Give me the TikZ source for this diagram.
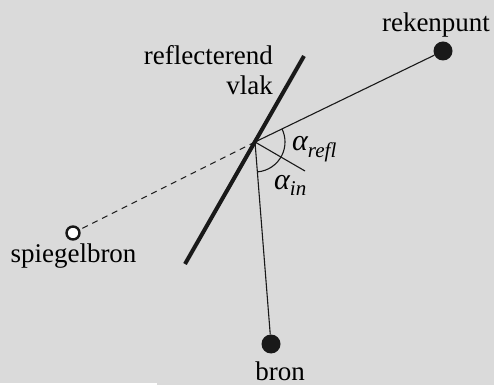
\documentclass[tikz,border=0pt]{standalone}
\usepackage{fontspec}
\setmainfont{Liberation Serif}
\usetikzlibrary{angles}
\definecolor{bggray}{RGB}{218,218,218}

\begin{document}
\begin{tikzpicture}[x=1pt,y=1pt,
  every node/.style={font=\fontsize{27}{30}\selectfont,inner sep=0pt},
  dot/.style={circle,fill=black!90,minimum size=19pt},
  mirror/.style={circle,draw=black!90,fill=white,line width=2.4pt,minimum size=13pt},
  ray/.style={line width=1.1pt,black!90},
  angletext/.style={anchor=base west,font=\fontsize{30}{32}\selectfont\itshape}]
\fill[bggray] (0,0) rectangle (494,385);
\fill[white] (0,0) rectangle (157,2);
\useasboundingbox (0,0) rectangle (494,385);
\coordinate (R) at (255,243);
\coordinate (top) at (304,329);
\coordinate (bot) at (185,121);
\coordinate (N) at (305,214);
\node[dot] (reken) at (443,334) {};
\node[dot] (bron) at (271,41) {};
\node[mirror] (spiegel) at (73,152) {};
\node[anchor=base] (lreken) at (436,353) {rekenpunt};
\node[anchor=base] (lbron) at (280,5) {bron};
\node[anchor=base] (lspiegel) at (73.5,122) {spiegelbron};
\node[anchor=base east] (lrefl) at (273,320) {reflecterend};
\node[anchor=base east] (lvlak) at (273,290) {vlak};
\node[angletext] (arefl) at (292,234) {α\textsubscript{refl}};
\node[angletext] (ain) at (274,195) {α\textsubscript{in}};
\draw[ray] (reken) -- (R); \draw[ray] (R) -- (bron); \draw[ray] (R) -- (N);
\draw[ray,dash pattern=on 6pt off 5pt] (R) -- (spiegel);
\draw[line width=4pt,black!90] (bot) -- (top);
\pic[draw,ray,angle radius=30pt] {angle=bron--R--reken};
\end{tikzpicture}
\end{document}
